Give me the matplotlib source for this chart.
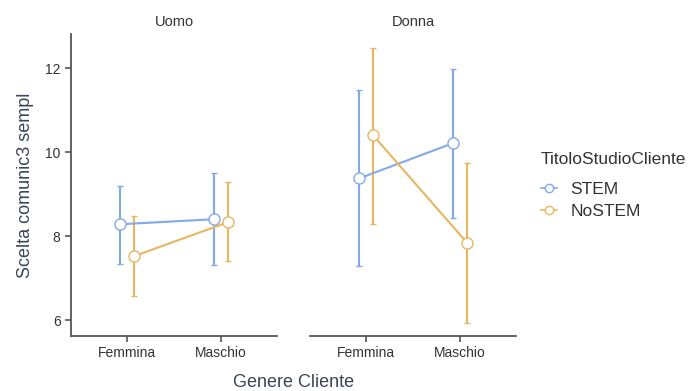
import numpy as np
import matplotlib.pyplot as plt
from matplotlib.lines import Line2D

plt.rcParams['font.family'] = ['Liberation Sans', 'DejaVu Sans']

# data
panels = ['Uomo', 'Donna']
categories = ['Femmina', 'Maschio']
groups = ['STEM', 'NoSTEM']

mean = {'Uomo': {'STEM': [8.28, 8.40], 'NoSTEM': [7.52, 8.33]},
        'Donna': {'STEM': [9.37, 10.21], 'NoSTEM': [10.40, 7.84]}}
upper = {'Uomo': {'STEM': [9.19, 9.49], 'NoSTEM': [8.48, 9.29]},
         'Donna': {'STEM': [11.47, 11.98], 'NoSTEM': [12.48, 9.74]}}
lower = {'Uomo': {'STEM': [7.33, 7.31], 'NoSTEM': [6.58, 7.40]},
         'Donna': {'STEM': [7.29, 8.44], 'NoSTEM': [8.29, 5.93]}}

colors = {'STEM': '#84A9E9', 'NoSTEM': '#E9B660'}
dodge = {'STEM': -0.075, 'NoSTEM': 0.075}
txt = '#333333'
spine_c = '#555555'

fig = plt.figure(figsize=(6.93, 3.91), dpi=100)
lefts = [71 / 693, 310 / 693]
axes = []
for i, p in enumerate(panels):
    ax = fig.add_axes([lefts[i], 55 / 391, 206 / 693, 302 / 391])
    x = np.arange(len(categories))
    for g in groups:
        xs = x + dodge[g]
        m = np.array(mean[p][g])
        lo = m - np.array(lower[p][g])
        hi = np.array(upper[p][g]) - m
        ax.errorbar(xs, m, yerr=[lo, hi], color=colors[g], lw=1.5,
                    capsize=2, capthick=1.5, marker='o', ms=8,
                    mfc='white', mec=colors[g], mew=1.0, zorder=3)
    ax.set_xlim(-0.596, 1.596)
    ax.set_ylim(5.62, 12.81)
    ax.set_xticks(x)
    ax.set_xticklabels(categories)
    ax.set_yticks([6, 8, 10, 12])
    ax.tick_params(colors=spine_c, labelcolor=txt, labelsize=10, length=4, width=1.2)
    for s in ['top', 'right']:
        ax.spines[s].set_visible(False)
    ax.spines['bottom'].set_color(spine_c)
    ax.spines['bottom'].set_linewidth(1.3)
    ax.spines['left'].set_color(spine_c)
    ax.spines['left'].set_linewidth(1.3)
    if i == 1:
        ax.spines['left'].set_visible(False)
        ax.tick_params(axis='y', left=False, labelleft=False)
    else:
        ax.set_ylabel('Scelta comunic3 sempl', fontsize=13, color='#3A4556', labelpad=8)
    ax.set_title(p, fontsize=10.5, color=txt, pad=6)
    axes.append(ax)

fig.text(293.5 / 693, 4 / 391, 'Genere Cliente', ha='center', va='baseline',
         fontsize=13, color='#3A4556')

handles = [Line2D([0], [0], color=colors[g], lw=1.2, marker='o', ms=6,
                  mfc='white', mec=colors[g]) for g in groups]
leg = fig.legend(handles, groups, loc='upper left', bbox_to_anchor=(541 / 693, 1 - 152 / 391),
                 frameon=False, fontsize=12.5, title='TitoloStudioCliente',
                 title_fontsize=12.5, handlelength=0.9, handletextpad=0.8,
                 labelspacing=0.35, borderaxespad=0, borderpad=0)
leg._legend_box.align = 'left'
leg._legend_box.sep = 11
for t in leg.get_texts():
    t.set_color(txt)
leg.get_title().set_color(txt)

fig.savefig('out.png', dpi=100)
